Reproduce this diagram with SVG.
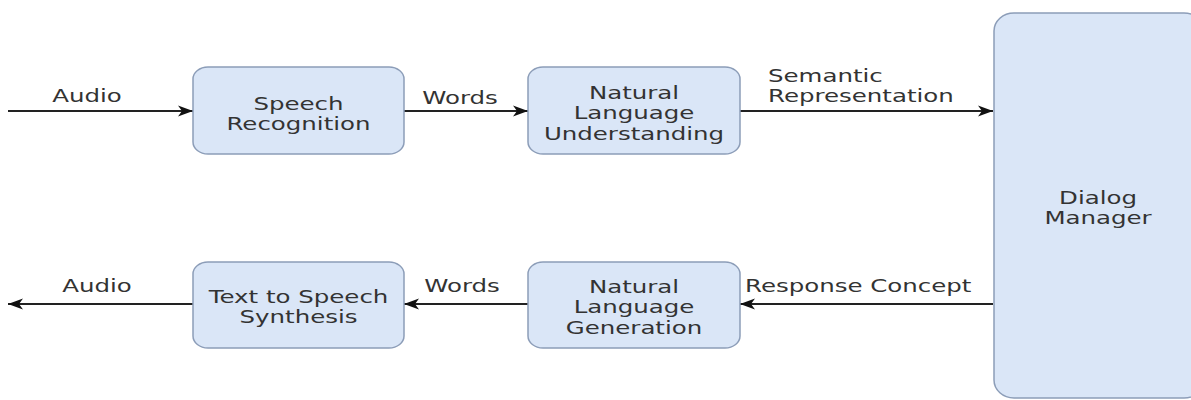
<svg xmlns="http://www.w3.org/2000/svg" width="1191" height="400" viewBox="0 0 1191 400">
  <style>
    .box { fill: #dae6f7; stroke: #8c9db8; stroke-width: 1.5; }
    .t { font-family: "DejaVu Sans", "Liberation Sans", sans-serif; font-size: 18px; fill: #333333; }
    .c { text-anchor: middle; }
    .edge { stroke: #222222; stroke-width: 2; fill: none; }
  </style>
  <defs>
    <marker id="arr" markerUnits="userSpaceOnUse" markerWidth="16" markerHeight="12" refX="15" refY="6" orient="auto">
      <path d="M0,0.5 L15,6 L0,11.5 L4,6 Z" fill="#111111"/>
    </marker>
  </defs>
  <rect width="1191" height="400" fill="#ffffff"/>

  <g id="connectors">
    <line class="edge" x1="8" y1="111" x2="193" y2="111" marker-end="url(#arr)"/>
    <line class="edge" x1="404" y1="111" x2="528" y2="111" marker-end="url(#arr)"/>
    <line class="edge" x1="740" y1="111" x2="993" y2="111" marker-end="url(#arr)"/>
    <line class="edge" x1="993" y1="304" x2="740" y2="304" marker-end="url(#arr)"/>
    <line class="edge" x1="528" y1="304" x2="404" y2="304" marker-end="url(#arr)"/>
    <line class="edge" x1="193" y1="304" x2="8" y2="304" marker-end="url(#arr)"/>
    <text class="t c" transform="translate(87,102) scale(1.36,1)">Audio</text>
    <text class="t c" transform="translate(460,104) scale(1.36,1)">Words</text>
    <text class="t" transform="translate(768,82) scale(1.36,1)">Semantic</text>
    <text class="t" transform="translate(768,102) scale(1.36,1)">Representation</text>
    <text class="t" transform="translate(745,292) scale(1.36,1)">Response Concept</text>
    <text class="t c" transform="translate(462,292) scale(1.36,1)">Words</text>
    <text class="t c" transform="translate(97,292) scale(1.36,1)">Audio</text>
  </g>

  <g id="speech-recognition">
    <rect class="box" x="193" y="67" width="211" height="87" rx="15" ry="12"/>
    <text class="t c" transform="translate(298.5,109.5) scale(1.36,1)"><tspan x="0">Speech</tspan><tspan x="0" dy="20.5">Recognition</tspan></text>
  </g>

  <g id="nlu">
    <rect class="box" x="528" y="67" width="212" height="87" rx="15" ry="12"/>
    <text class="t c" transform="translate(634,99) scale(1.36,1)"><tspan x="0">Natural</tspan><tspan x="0" dy="20.5">Language</tspan><tspan x="0" dy="20.5">Understanding</tspan></text>
  </g>

  <g id="dialog-manager">
    <rect class="box" x="994" y="13" width="210" height="385" rx="20" ry="18"/>
    <text class="t c" transform="translate(1098,204) scale(1.36,1)"><tspan x="0">Dialog</tspan><tspan x="0" dy="20.5">Manager</tspan></text>
  </g>

  <g id="nlg">
    <rect class="box" x="528" y="262" width="212" height="86" rx="15" ry="12"/>
    <text class="t c" transform="translate(634,293) scale(1.36,1)"><tspan x="0">Natural</tspan><tspan x="0" dy="20.5">Language</tspan><tspan x="0" dy="20.5">Generation</tspan></text>
  </g>

  <g id="tts">
    <rect class="box" x="193" y="262" width="211" height="86" rx="15" ry="12"/>
    <text class="t c" transform="translate(298.5,302.5) scale(1.36,1)"><tspan x="0">Text to Speech</tspan><tspan x="0" dy="20.5">Synthesis</tspan></text>
  </g>
</svg>
